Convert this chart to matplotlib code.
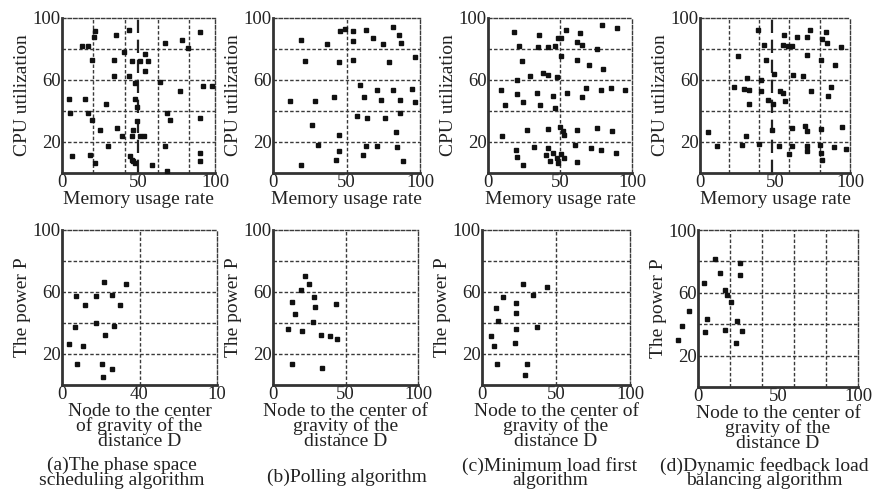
import matplotlib
matplotlib.use('Agg')
import matplotlib.pyplot as plt

plt.rcParams['font.family'] = ['Liberation Serif', 'DejaVu Serif']

# ── data: top row (memory usage rate vs CPU utilization) ─────────────────────

mem_a = [21.7, 20.6, 35.4, 43.5, 67.4, 78.3, 90.2, 13.0, 16.7, 82.6, 40.2, 19.6,
         33.7, 45.7, 54.3, 56.5, 51.0, 54.3, 33.7, 43.5, 47.8, 64.1, 92.4, 97.8,
         77.2, 4.3, 15.2, 28.9, 47.8, 48.9, 5.4, 16.7, 68.5, 70.7, 90.2, 19.6,
         48.9, 24.6, 35.9, 46.7, 39.1, 45.7, 51.1, 53.3, 29.8, 67.4, 6.5, 18.0,
         21.7, 44.6, 46.7, 47.8, 45.7, 58.7, 68.5, 90.0, 90.2]
cpu_a = [91.4, 87.7, 89.0, 92.5, 84.0, 85.6, 90.8, 81.7, 81.7, 80.6, 77.8, 73.0,
         73.0, 72.5, 77.0, 72.0, 72.5, 65.6, 62.8, 62.4, 58.0, 59.0, 56.0, 56.0,
         52.7, 47.7, 47.7, 44.5, 47.7, 42.4, 39.0, 39.0, 38.7, 34.0, 35.5, 34.0,
         33.3, 27.5, 29.0, 28.0, 23.7, 24.0, 23.7, 23.7, 17.2, 17.2, 10.8, 11.4,
         6.5, 10.8, 7.5, 6.5, 8.6, 5.0, 1.0, 12.9, 7.5]

mem_b = [19.3, 36.4, 45.5, 48.9, 54.1, 54.5, 63.6, 67.7, 74.5, 81.4, 85.9, 87.0,
         21.6, 45.0, 54.5, 79.0, 96.6, 59.5, 61.8, 70.5, 73.2, 81.4, 86.4, 94.3,
         96.6, 11.8, 28.4, 41.4, 57.3, 64.0, 76.1, 86.4, 26.8, 45.0, 83.6, 30.7,
         63.6, 70.9, 84.5, 45.0, 60.9, 42.7, 18.9, 88.2]
cpu_b = [86.0, 83.4, 91.4, 92.9, 91.4, 85.0, 92.5, 87.0, 83.2, 94.2, 88.8, 83.9,
         72.0, 71.4, 73.0, 71.4, 74.8, 57.0, 49.0, 53.8, 47.3, 53.3, 47.3, 54.2,
         45.6, 46.2, 46.2, 49.0, 37.0, 35.5, 35.5, 38.7, 31.2, 24.7, 26.2, 18.3,
         17.6, 17.6, 16.8, 14.0, 11.8, 8.2, 5.4, 7.5]

mem_c = [17.9, 35.6, 48.8, 50.5, 54.2, 64.0, 79.0, 89.5, 21.6, 34.9, 41.9, 46.5,
         61.6, 65.6, 76.0, 23.3, 50.5, 61.6, 69.8, 80.2, 29.5, 38.4, 41.9, 47.7,
         20.2, 9.3, 20.2, 34.2, 45.3, 55.1, 65.6, 68.4, 78.4, 85.3, 95.3, 11.6,
         24.4, 36.0, 46.5, 50.0, 27.2, 41.9, 51.9, 52.8, 61.6, 75.6, 86.0, 10.0,
         19.3, 31.9, 41.9, 60.5, 71.6, 78.6, 89.0, 20.2, 40.2, 45.3, 47.7, 50.5,
         52.8, 43.0, 61.6, 24.0, 48.8]
cpu_c = [90.8, 88.8, 87.0, 87.0, 92.0, 90.3, 95.5, 93.3, 82.2, 81.3, 81.3, 82.2,
         84.3, 82.8, 80.0, 72.0, 75.3, 73.0, 69.9, 67.0, 62.8, 64.5, 63.4, 61.9,
         59.8, 53.3, 51.2, 51.6, 49.5, 51.6, 49.0, 54.8, 53.3, 54.8, 53.3, 44.0,
         45.6, 44.0, 41.9, 30.0, 27.9, 28.4, 26.9, 24.7, 27.5, 29.0, 26.9, 23.7,
         15.0, 16.6, 16.1, 18.3, 16.1, 15.0, 12.9, 10.3, 11.8, 12.9, 9.7, 12.5,
         9.7, 7.5, 6.9, 5.4, 6.5]

mem_d = [38.4, 42.9, 55.8, 55.4, 58.5, 61.4, 64.7, 71.4, 73.2, 83.7, 81.5, 84.8,
         93.8, 25.0, 44.2, 71.0, 80.8, 89.7, 49.6, 62.0, 68.8, 31.3, 40.6, 22.8,
         29.5, 32.6, 40.6, 53.1, 55.4, 74.1, 87.5, 85.3, 45.1, 48.7, 56.9, 32.4,
         48.0, 61.4, 70.3, 71.4, 80.8, 94.9, 5.6, 30.8, 11.6, 27.9, 39.1, 52.5,
         61.4, 71.0, 79.9, 89.3, 97.1, 59.2, 71.4, 80.8, 81.5]
cpu_d = [92.0, 82.8, 89.2, 82.8, 82.2, 82.2, 87.7, 87.7, 92.0, 90.8, 86.5, 83.9,
         81.3, 75.7, 73.0, 76.3, 72.7, 69.9, 64.1, 63.4, 62.8, 61.3, 59.8, 55.5,
         54.2, 53.8, 52.7, 52.7, 51.6, 52.7, 55.5, 49.5, 47.3, 44.7, 46.2, 44.7,
         28.0, 29.0, 30.5, 26.9, 28.4, 29.5, 26.2, 24.0, 17.2, 18.3, 18.9, 17.2,
         17.2, 17.2, 18.3, 16.8, 15.5, 12.5, 14.0, 12.9, 8.6]

# ── data: bottom row (distance D vs power P) ─────────────────────────────────

dist_a = [27.1, 41.2, 9.1, 22.1, 32.1, 14.8, 37.3, 8.2, 22.1, 33.6, 27.8, 4.8,
          13.4, 9.8, 25.6, 32.1, 26.5]
power_a = [66.7, 65.2, 57.4, 57.4, 58.1, 51.6, 51.6, 37.2, 40.2, 38.1, 32.3, 26.5,
           25.2, 13.5, 13.5, 10.1, 5.4]

dist_b = [22.1, 24.8, 19.3, 28.5, 13.1, 29.0, 43.3, 14.9, 27.6, 10.1, 19.8, 33.1,
          39.3, 43.9, 13.1, 33.8]
power_b = [70.3, 65.2, 61.3, 57.0, 53.8, 50.1, 52.3, 45.8, 40.9, 35.9, 35.1, 32.3,
           31.6, 29.5, 13.5, 10.8]

dist_c = [27.5, 44.1, 14.0, 34.7, 9.5, 23.0, 23.0, 11.0, 37.0, 23.0, 5.9, 8.1,
          22.5, 10.4, 30.2, 29.0]
power_c = [65.2, 63.4, 56.6, 58.1, 49.5, 52.7, 46.2, 41.5, 37.6, 35.9, 31.6, 25.2,
           27.3, 13.5, 13.5, 6.5]

dist_d = [10.8, 26.5, 14.0, 26.0, 3.5, 17.0, 18.1, 20.6, -5.4, -10.0, -12.7, 5.6,
          24.4, 4.6, 17.0, 27.5, 24.0]
power_d = [81.3, 78.7, 72.3, 71.3, 66.0, 62.1, 58.5, 54.3, 48.5, 38.7, 29.8, 43.0,
           42.1, 35.1, 36.2, 35.7, 28.1]

# vertical grid positions
top_vlines = [[20, 41, 63, 83], [50], [50], [19, 39, 59, 80]]
top_heavy = [50, None, None, 48]
bottom_vlines = [[50], [50], [50], [20, 40, 60, 80]]

top_x = [mem_a, mem_b, mem_c, mem_d]
top_y = [cpu_a, cpu_b, cpu_c, cpu_d]
bot_x = [dist_a, dist_b, dist_c, dist_d]
bot_y = [power_a, power_b, power_c, power_d]

bottom_xticklabels = [["0", "40", "10"], ["0", "50", "100"],
                      ["0", "50", "100"], ["0", "50", "100"]]
bottom_xlabels = ["Node to the center\nof gravity of the\ndistance D"] + \
                 ["Node to the center of\ngravity of the\ndistance D"] * 3
captions = ["(a)The phase space\nscheduling algorithm", "(b)Polling algorithm",
            "(c)Minimum load first\nalgorithm", "(d)Dynamic feedback load\nbalancing algorithm"]

# ── layout (pixel boxes: left, right, top, bottom) ───────────────────────────

W, H = 877, 495
top_boxes = [(62, 215, 18, 173), (273, 420, 18, 173), (488, 632, 18, 173), (700, 850, 18, 173)]
bot_boxes = [(62, 217, 230, 385), (273, 418, 230, 385), (482, 630, 230, 385), (698, 858, 230, 387)]
caption_pos = [(122, 473), (347, 477), (550, 473), (764, 473)]

GRID = "#3a3a3a"
TXT = "#222222"
FS = 13.5

fig = plt.figure(figsize=(W / 100, H / 100), dpi=100)
fig.patch.set_facecolor("white")


def make_axes(box):
    l, r, t, b = box
    return fig.add_axes([l / W, 1 - b / H, (r - l) / W, (b - t) / H])


def style(ax, vlines, heavy=None):
    ax.set_xlim(0, 100)
    ax.set_ylim(0, 100)
    for y in (20, 40, 60, 80):
        ax.axhline(y, color=GRID, lw=1.0, ls=(0, (2.5, 1.5)), zorder=1)
    for x in vlines:
        ax.axvline(x, color=GRID, lw=1.0, ls=(0, (2.5, 1.5)), zorder=1)
    if heavy is not None:
        ax.axvline(heavy, color="#222222", lw=1.6, ls=(0, (6, 3)), zorder=1)
    for s in ("left", "bottom"):
        ax.spines[s].set_linewidth(2.0)
        ax.spines[s].set_color("#333333")
    for s in ("top", "right"):
        ax.spines[s].set_linewidth(1.0)
        ax.spines[s].set_color(GRID)
        ax.spines[s].set_linestyle((0, (2.5, 1.5)))
    ax.set_yticks([20, 60, 100])
    ax.tick_params(length=0, pad=1, labelsize=FS, colors=TXT)


for i in range(4):
    ax = make_axes(top_boxes[i])
    style(ax, top_vlines[i], top_heavy[i])
    ax.plot(top_x[i], top_y[i], "s", color="#111111", markersize=3.2, zorder=3)
    ax.set_xticks([0, 50, 100])
    ax.set_xlabel("Memory usage rate", fontsize=FS + 0.5, color=TXT, labelpad=0)
    ax.set_ylabel("CPU utilization", fontsize=FS + 0.5, color=TXT, labelpad=1)

    ax = make_axes(bot_boxes[i])
    style(ax, bottom_vlines[i])
    ax.plot(bot_x[i], bot_y[i], "s", color="#111111", markersize=3.2, zorder=3,
            clip_on=False)
    ax.set_xticks([0, 50, 100])
    ax.set_xticklabels(bottom_xticklabels[i])
    ax.set_xlabel(bottom_xlabels[i], fontsize=FS + 0.5, color=TXT, labelpad=0,
                  linespacing=0.8)
    ax.set_ylabel("The power P", fontsize=FS + 0.5, color=TXT, labelpad=1)

    cx, cy = caption_pos[i]
    fig.text(cx / W, 1 - cy / H, captions[i], ha="center", va="center",
             fontsize=FS + 0.5, color=TXT, linespacing=0.8)

plt.savefig("out.png", dpi=100, facecolor="white")
